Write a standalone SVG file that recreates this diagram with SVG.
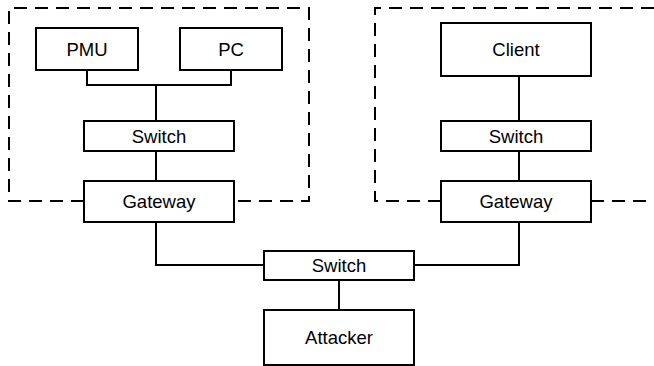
<svg xmlns="http://www.w3.org/2000/svg" width="654" height="366" viewBox="0 0 654 366">
<style>
.box{fill:#fff;stroke:#000;stroke-width:2}
.dash{fill:none;stroke:#000;stroke-width:2;stroke-dasharray:13 8}
.wire{fill:none;stroke:#000;stroke-width:2}
text{font-family:"Liberation Sans",Arial,sans-serif;font-size:18.5px;fill:#000;text-anchor:middle;dominant-baseline:central}
</style>
<rect width="654" height="366" fill="#fff"/>
<g id="zones">
<path class="dash" d="M84,201 H9 V8 H309 V201 H234"/>
<path class="dash" d="M441,201 H375 V8 H660"/>
<path class="dash" d="M591,201 H660"/>
</g>
<g id="connectors">
<path class="wire" d="M87,70 V85 H231 V70"/>
<path class="wire" d="M156,85 V121"/>
<path class="wire" d="M156,151 V181"/>
<path class="wire" d="M519,76 V121"/>
<path class="wire" d="M519,151 V181"/>
<path class="wire" d="M156,222 V265 H264"/>
<path class="wire" d="M414,265 H519 V222"/>
<path class="wire" d="M339,280 V310"/>
</g>
<g id="pmu"><rect class="box" x="36" y="28" width="102" height="42"/><text x="87" y="49">PMU</text></g>
<g id="pc"><rect class="box" x="180" y="28" width="102" height="42"/><text x="231" y="49">PC</text></g>
<g id="switch-left"><rect class="box" x="84" y="121" width="150" height="30"/><text x="159" y="136">Switch</text></g>
<g id="gateway-left"><rect class="box" x="84" y="181" width="150" height="41"/><text x="159" y="201">Gateway</text></g>
<g id="client"><rect class="box" x="441" y="23" width="150" height="53"/><text x="516" y="49">Client</text></g>
<g id="switch-right"><rect class="box" x="441" y="121" width="150" height="30"/><text x="516" y="136">Switch</text></g>
<g id="gateway-right"><rect class="box" x="441" y="181" width="150" height="41"/><text x="516" y="201">Gateway</text></g>
<g id="switch-center"><rect class="box" x="264" y="251" width="150" height="29"/><text x="339" y="265">Switch</text></g>
<g id="attacker"><rect class="box" x="264" y="310" width="150" height="55"/><text x="339" y="337">Attacker</text></g>
</svg>
